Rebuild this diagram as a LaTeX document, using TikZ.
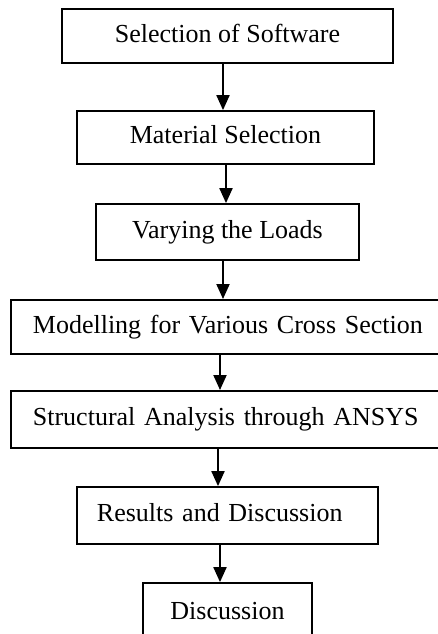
\documentclass[tikz,border=0pt]{standalone}
\usepackage{fontspec}
\setmainfont{Liberation Serif}
\usetikzlibrary{arrows.meta}
\tikzset{
  every node/.style={font=\fontsize{13}{16}\selectfont},
  stagebox/.style={draw=black, line width=0.9pt, inner ysep=0pt, inner xsep=0pt},
  widebox/.style={stagebox, anchor=north west, text width=198pt, align=left, inner xsep=11pt},
  flow/.style={-{Triangle[length=7.5pt,width=6.5pt]}, draw=black, line width=1pt},
}
\begin{document}
\begin{tikzpicture}[x=0.5pt, y=-0.5pt]
  \useasboundingbox (0,0) rectangle (438,634);
  % Stages, top to bottom
  \node[stagebox, minimum width=165.5pt, minimum height=27pt] (software) at (227.5,36)
    {\strut Selection of Software};
  \node[stagebox, minimum width=148.5pt, minimum height=26.5pt] (material) at (225.5,137.5)
    {\strut Material Selection};
  \node[stagebox, minimum width=131.5pt, minimum height=28pt] (loads) at (227.5,232)
    {\strut Varying the Loads};
  \node[widebox, minimum height=27pt] (modelling) at (10,299)
    {\strut Modelling for Various Cross Section};
  \node[widebox, minimum height=28.5pt] (analysis) at (10,390)
    {\strut Structural Analysis through ANSYS};
  \node[stagebox, text width=130.5pt, align=left, inner xsep=10pt, minimum height=28.5pt] (results) at (227.5,515.5)
    {\strut Results and Discussion};
  \node[stagebox, minimum width=84.5pt, minimum height=30pt] (discussion) at (227.5,613)
    {\strut Discussion};
  % Arrows, straight down from each stage to the next
  \draw[flow] ([xshift=-2.25pt]software.south) coordinate (s1) -- (s1 |- material.north);
  \draw[flow] ([xshift=0.25pt]material.south) coordinate (s2) -- (s2 |- loads.north);
  \draw[flow] ([xshift=-2.25pt]loads.south) coordinate (s3) -- (s3 |- modelling.north);
  \draw[flow] ([xshift=-3.75pt]loads.south |- modelling.south) coordinate (s4) -- (s4 |- analysis.north);
  \draw[flow] ([xshift=-4.75pt]loads.south |- analysis.south) coordinate (s5) -- (s5 |- results.north);
  \draw[flow] ([xshift=-3.75pt]results.south) coordinate (s6) -- (s6 |- discussion.north);
\end{tikzpicture}
\end{document}
